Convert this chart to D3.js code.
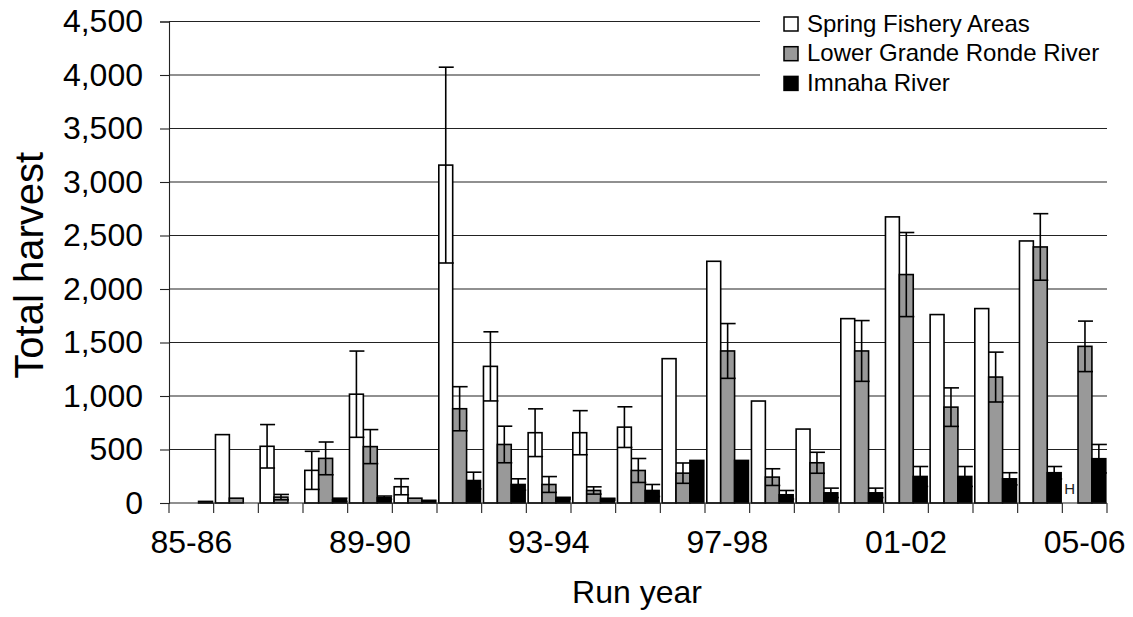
<!DOCTYPE html>
<html>
<head>
<meta charset="utf-8">
<script src="https://cdn.jsdelivr.net/npm/d3@7"></script>
<style>
  html, body { margin: 0; padding: 0; background: #fff; }
  svg { display: block; font-family: "Liberation Sans", Arial, sans-serif; }
</style>
</head>
<body>
<div id="chart"></div>
<script>
var years = ['85-86', '86-87', '87-88', '88-89', '89-90', '90-91', '91-92', '92-93', '93-94', '94-95', '95-96',
  '96-97', '97-98', '98-99', '99-00', '00-01', '01-02', '02-03', '03-04', '04-05', '05-06']
var seriesNames = ['Spring Fishery Areas', 'Lower Grande Ronde River', 'Imnaha River']
var seriesFill = ['#ffffff', '#999999', '#000000']

// mean harvest, null = not estimated
var spring = [0, 639, 530, 305, 1017, 152, 3158, 1277, 657, 657, 709, 1349, 2259, 953, 691, 1723, 2674, 1761, 1817, 2449, null]
var springErr = [null, null, 203, 178, 403, 75, 915, 323, 223, 206, 190, null, null, null, null, null, null, null, null, null, null]
var lowerGR = [null, 45, 55, 417, 527, 45, 881, 547, 173, 117, 304, 279, 1421, 242, 376, 1421, 2135, 896, 1177, 2393, 1464]
var lowerGRErr = [null, null, 25, 153, 159, null, 206, 171, 74, 34, 112, 95, 256, 78, 98, 284, 393, 180, 233, 311, 236]
var imnaha = [15, null, null, 30, 50, 25, 210, 173, 45, 36, 117, 398, 398, 77, 95, 95, 248, 248, 226, 283, 414]
var imnahaErr = [null, null, null, 15, 15, null, 78, 53, 8, 8, 56, null, null, 40, 44, 44, 93, 93, 57, 58, 133]

var yTicks = [0, 500, 1000, 1500, 2000, 2500, 3000, 3500, 4000, 4500]
var xLabels = ['85-86', '89-90', '93-94', '97-98', '01-02', '05-06']

;(function (d3) {
  var W = 1133
  var H = 617
  var margin = { top: 21.5, right: 26, bottom: 114, left: 169 }
  var width = W - margin.left - margin.right
  var height = H - margin.top - margin.bottom

  var svg = d3.select('#chart').append('svg')
    .attr('width', W)
    .attr('height', H)

  var g = svg.append('g')
    .attr('transform', 'translate(' + margin.left + ',' + margin.top + ')')

  var x0 = d3.scaleBand().domain(years).range([0, width])
  var x1 = d3.scaleBand().domain([0, 1, 2]).range([1.8, x0.bandwidth() - 1.2])
  var y = d3.scaleLinear().domain([0, 4500]).range([height, 0])

  // gridlines
  g.append('g')
    .classed('grid', true)
    .selectAll('line')
    .data(yTicks.slice(1))
    .enter()
    .append('line')
    .attr('x1', 0)
    .attr('x2', width)
    .attr('y1', function (d) { return y(d) })
    .attr('y2', function (d) { return y(d) })
    .attr('stroke', '#222')
    .attr('stroke-width', 1.1)

  // y axis
  var yAxis = d3.axisLeft(y)
    .tickValues(yTicks)
    .tickSize(9)
    .tickPadding(17)
    .tickFormat(d3.format(','))

  g.append('g')
    .call(yAxis)
    .call(function (a) {
      a.select('.domain').attr('stroke', '#222').attr('stroke-width', 1.1)
      a.selectAll('.tick line').attr('stroke', '#222').attr('stroke-width', 1.1)
      a.selectAll('.tick text')
        .attr('font-size', 32)
        .attr('fill', '#000')
        .attr('font-family', '"Liberation Sans", Arial, sans-serif')
    })

  // bars, one group per run year
  var rows = years.map(function (yr, i) {
    return [
      { year: yr, s: 0, v: spring[i], e: springErr[i] },
      { year: yr, s: 1, v: lowerGR[i], e: lowerGRErr[i] },
      { year: yr, s: 2, v: imnaha[i], e: imnahaErr[i] }
    ]
  })

  var groups = g.append('g')
    .classed('bars', true)
    .selectAll('g')
    .data(rows)
    .enter()
    .append('g')
    .attr('transform', function (d) { return 'translate(' + x0(d[0].year) + ',0)' })

  groups.selectAll('rect')
    .data(function (d) { return d.filter(function (b) { return b.v !== null }) })
    .enter()
    .append('rect')
    .attr('x', function (d) { return x1(d.s) })
    .attr('y', function (d) { return y(d.v) })
    .attr('width', x1.bandwidth())
    .attr('height', function (d) { return height - y(d.v) })
    .attr('fill', function (d) { return seriesFill[d.s] })
    .attr('stroke', '#000')
    .attr('stroke-width', 1.6)

  // error bars
  var capHalf = 7
  var errs = groups.selectAll('g.err')
    .data(function (d) { return d.filter(function (b) { return b.v !== null && b.e !== null }) })
    .enter()
    .append('g')
    .classed('err', true)
    .attr('stroke', '#000')
    .attr('stroke-width', 1.6)

  errs.append('line')
    .attr('x1', function (d) { return x1(d.s) + x1.bandwidth() / 2 })
    .attr('x2', function (d) { return x1(d.s) + x1.bandwidth() / 2 })
    .attr('y1', function (d) { return y(d.v + d.e) })
    .attr('y2', function (d) { return y(Math.max(0, d.v - d.e)) })

  errs.append('line')
    .attr('x1', function (d) { return x1(d.s) + x1.bandwidth() / 2 - capHalf })
    .attr('x2', function (d) { return x1(d.s) + x1.bandwidth() / 2 + capHalf + 1 })
    .attr('y1', function (d) { return y(d.v + d.e) })
    .attr('y2', function (d) { return y(d.v + d.e) })

  errs.append('line')
    .attr('x1', function (d) { return x1(d.s) + x1.bandwidth() / 2 - capHalf })
    .attr('x2', function (d) { return x1(d.s) + x1.bandwidth() / 2 + capHalf + 1 })
    .attr('y1', function (d) { return y(Math.max(0, d.v - d.e)) })
    .attr('y2', function (d) { return y(Math.max(0, d.v - d.e)) })

  // the stray "H" left where the 05-06 spring bar would be
  g.append('text')
    .attr('x', x0('05-06') + x1(0))
    .attr('y', y(0) - 9.5)
    .attr('font-size', 15)
    .attr('fill', '#222')
    .text('H')

  // x axis: labels every 4th year, ticks between years
  var xAxis = d3.axisBottom(x0)
    .tickValues(xLabels)
    .tickSize(0)
    .tickPadding(27)

  g.append('g')
    .attr('transform', 'translate(0,' + height + ')')
    .call(xAxis)
    .call(function (a) {
      a.select('.domain').remove()
      a.selectAll('.tick text')
        .attr('font-size', 32)
        .attr('fill', '#000')
        .attr('font-family', '"Liberation Sans", Arial, sans-serif')
    })

  g.append('line')
    .attr('x1', 0)
    .attr('x2', width)
    .attr('y1', height)
    .attr('y2', height)
    .attr('stroke', '#222')
    .attr('stroke-width', 1.1)

  g.append('g')
    .selectAll('line')
    .data(years.concat(['end']))
    .enter()
    .append('line')
    .attr('x1', function (d) { return d === 'end' ? width : x0(d) })
    .attr('x2', function (d) { return d === 'end' ? width : x0(d) })
    .attr('y1', height)
    .attr('y2', height + 10)
    .attr('stroke', '#222')
    .attr('stroke-width', 1.1)

  // axis titles
  svg.append('text')
    .attr('x', margin.left + width / 2 - 1)
    .attr('y', 603)
    .attr('text-anchor', 'middle')
    .attr('font-size', 32)
    .text('Run year')

  svg.append('text')
    .attr('transform', 'translate(43,' + (margin.top + height / 2 + 3) + ') rotate(-90)')
    .attr('text-anchor', 'middle')
    .attr('font-size', 40)
    .text('Total harvest')

  // legend
  var legend = svg.append('g').classed('legend', true)
  legend.append('rect')
    .attr('x', 760)
    .attr('y', 6)
    .attr('width', 350)
    .attr('height', 96)
    .attr('fill', '#fff')

  var items = legend.selectAll('g')
    .data(seriesNames)
    .enter()
    .append('g')
    .attr('transform', function (d, i) { return 'translate(784,' + (17 + i * 29.7) + ')' })

  items.append('rect')
    .attr('width', 14)
    .attr('height', 14)
    .attr('fill', function (d, i) { return seriesFill[i] })
    .attr('stroke', '#000')
    .attr('stroke-width', 1.5)

  items.append('text')
    .attr('x', 23)
    .attr('y', 14.5)
    .attr('font-size', 24)
    .text(function (d) { return d })
})(d3)
</script>
</body>
</html>
